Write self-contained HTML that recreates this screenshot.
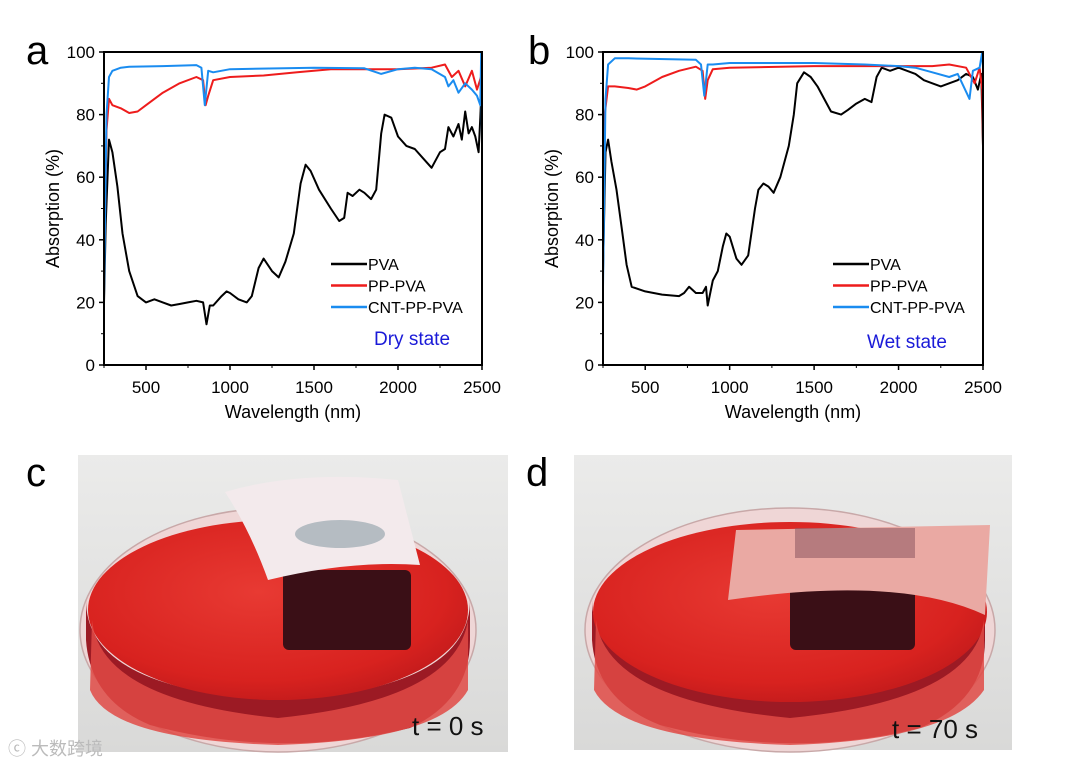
<!DOCTYPE html>
<html><head><meta charset="utf-8"><style>
body{margin:0;background:#fff;font-family:"Liberation Sans","Noto Sans CJK SC",sans-serif}
svg{display:block}
</style></head><body>
<svg id="fig" width="1080" height="770" viewBox="0 0 1080 770" font-family="Liberation Sans, Noto Sans CJK SC, sans-serif">
<defs>
<radialGradient id="liq" cx="0.45" cy="0.4" r="0.7"><stop offset="0" stop-color="#e83a33"/><stop offset="0.7" stop-color="#d8221f"/><stop offset="1" stop-color="#b8171a"/></radialGradient>
<linearGradient id="bg" x1="0" y1="0" x2="0" y2="1"><stop offset="0" stop-color="#ebebea"/><stop offset="1" stop-color="#d9d9d8"/></linearGradient>
</defs>
<text x="26" y="64" font-size="40">a</text>
<text x="528" y="64" font-size="40">b</text>
<text x="26" y="486" font-size="40">c</text>
<text x="526" y="486" font-size="40">d</text>
<g id="chartA"></g>
<g id="chartB"></g>

<g>
<rect x="78" y="455" width="430" height="297" fill="url(#bg)"/>
<ellipse cx="278" cy="630" rx="198" ry="122" fill="#efd6d6" stroke="#c8a8a8" stroke-width="1.5"/>
<path d="M86,640 Q90,700 150,725 Q280,760 410,728 Q470,700 470,640 L470,600 Q470,690 278,700 Q86,690 86,600 Z" fill="#9c1a24"/>
<ellipse cx="278" cy="610" rx="190" ry="90" fill="url(#liq)"/>
<path d="M92,620 Q100,700 278,718 Q456,700 468,620 L468,690 Q440,740 278,745 Q110,740 90,690 Z" fill="#e04a45" opacity="0.85"/>
<rect x="283" y="570" width="128" height="80" rx="6" fill="#3a0f16"/>
<path d="M225,492 Q300,470 398,480 L420,565 Q350,560 268,580 Q250,530 225,492 Z" fill="#f3eaec"/>
<ellipse cx="340" cy="534" rx="45" ry="14" fill="#9aa8b0" opacity="0.7"/>
<text x="412" y="735" font-size="26" fill="#111">t = 0 s</text>
</g>

<g>
<rect x="574" y="455" width="438" height="295" fill="url(#bg)"/>
<ellipse cx="790" cy="630" rx="205" ry="122" fill="#efd6d6" stroke="#c8a8a8" stroke-width="1.5"/>
<path d="M592,640 Q596,700 660,725 Q790,760 920,728 Q985,700 985,640 L985,600 Q985,690 790,700 Q592,690 592,600 Z" fill="#9c1a24"/>
<ellipse cx="790" cy="612" rx="197" ry="90" fill="url(#liq)"/>
<path d="M596,620 Q606,700 790,718 Q974,700 984,620 L984,690 Q950,740 790,745 Q620,740 594,690 Z" fill="#e04a45" opacity="0.85"/>
<rect x="790" y="580" width="125" height="70" rx="6" fill="#3a0f16"/>
<path d="M736,530 L990,525 L985,615 Q900,575 728,600 Z" fill="#eaa9a3"/>
<rect x="795" y="528" width="120" height="30" fill="#8a5560" opacity="0.55"/>
<text x="892" y="738" font-size="26" fill="#111">t = 70 s</text>
</g>
<text x="8" y="755" font-size="18" fill="#bbb">ⓒ 大数跨境</text>
</svg>
<script>
// ---- Dry state data ----
const dryPvaX=[250,260,280,300,330,360,400,450,500,550,600,650,700,750,800,840,860,880,900,950,980,1000,1050,1100,1130,1170,1200,1250,1290,1330,1380,1420,1450,1480,1530,1600,1650,1680,1700,1730,1770,1800,1840,1870,1900,1920,1960,2000,2050,2100,2150,2200,2250,2280,2300,2330,2360,2380,2400,2420,2440,2460,2480,2490,2500];
const dryPvaY=[20,45,72,68,57,42,30,22,20,21,20,19,19.5,20,20.5,20,13,19,19,22,23.5,23,21,20,22,31,34,30,28,33,42,58,64,62,56,50,46,47,55,54,56,55,53,56,74,80,79,73,70,69,66,63,68,69,76,73,77,72,81,74,76,73,68,79,92];
const dryPpX=[250,265,280,300,350,400,450,500,600,700,800,840,855,870,900,1000,1200,1400,1600,1800,2000,2200,2280,2320,2360,2400,2440,2470,2500];
const dryPpY=[30,75,85,83,82,80.5,81,83,87,90,92,91,83,86,91,92,92.5,93.5,94.5,94.5,94.5,95,96,92,94,89,94,88,93];
const dryCntX=[250,265,280,300,350,400,600,800,830,850,870,900,1000,1500,1800,1900,2000,2100,2200,2280,2300,2330,2360,2400,2440,2470,2490,2495,2500];
const dryCntY=[22,80,92,94,95,95.3,95.5,95.8,95,83,94,93.5,94.5,95,94.8,93,94.5,95,94.5,92,89,91,87,90,88,86,83,100,72];
// ---- Wet state data ----
const wetPvaX=[250,265,280,300,330,360,390,420,500,600,700,730,760,800,840,860,870,900,930,960,980,1000,1040,1070,1110,1150,1170,1200,1230,1260,1300,1350,1380,1400,1440,1480,1520,1560,1600,1660,1700,1750,1800,1840,1870,1900,1950,2000,2050,2100,2150,2200,2250,2300,2350,2400,2440,2470,2490,2500];
const wetPvaY=[30,68,72,65,56,44,32,25,23.5,22.5,22,23,25,23,23,25,19,27,30,38,42,41,34,32,35,50,56,58,57,55,60,70,80,90,93.5,92,89,85,81,80,81.5,83.5,85,84,92,95,94,95,94,93,91,90,89,90,91,93,92,88,93,70];
const wetPpX=[250,260,280,320,400,450,500,600,700,800,840,855,870,900,1000,1500,1700,2000,2200,2300,2400,2450,2480,2495,2500];
const wetPpY=[50,80,89,89,88.5,88,89,92,94,95.3,94,85,91,94.5,95,95.5,95.5,95.5,95.5,96,95,90,95,88,70];
const wetCntX=[250,265,280,320,400,800,830,850,870,900,1000,1500,1800,2000,2100,2200,2300,2350,2420,2440,2480,2495,2500];
const wetCntY=[25,85,96,98,98,97.5,96,86,96,96,96.5,96.5,96,95.5,95,93.5,92,93,85,94,95,100,95];
const xTicks=[500,1000,1500,2000,2500];
const yTicks=[0,20,40,60,80,100];
const seriesNames=["PVA","PP-PVA","CNT-PP-PVA"];
const seriesColors=["#000000","#ee1c1c","#1a8cf0"];

const NS="http://www.w3.org/2000/svg";
function mk(tag,attrs,parent){const e=document.createElementNS(NS,tag);for(const k in attrs)e.setAttribute(k,attrs[k]);parent.appendChild(e);return e;}

function drawChart(g,L,R,T,B,series,stateText,stateX,stateY,legX){
  const sx=v=>L+(v-250)/(2500-250)*(R-L);
  const sy=v=>B-v/100*(B-T);
  series.forEach((s,i)=>{
    const p=s.x.map((x,j)=>(j?'L':'M')+sx(x).toFixed(1)+','+sy(s.y[j]).toFixed(1)).join(' ');
    const path=mk('path',{d:p,fill:'none',stroke:seriesColors[i],'stroke-width':2,'stroke-linejoin':'round'},g);
    
    
  });
  const frame=mk('rect',{x:L,y:T,width:R-L,height:B-T,fill:'none',stroke:'#000','stroke-width':2},g);
  
  
  xTicks.forEach(t=>{
    mk('line',{x1:sx(t),x2:sx(t),y1:B,y2:B+5,stroke:'#000','stroke-width':1.5},g);
    mk('line',{x1:sx(t-250),x2:sx(t-250),y1:B,y2:B+3,stroke:'#000','stroke-width':1},g);
    const tx=mk('text',{x:sx(t),y:B+28,'font-size':17,'text-anchor':'middle'},g);
    tx.textContent=t;
    
    
  });
  yTicks.forEach(t=>{
    mk('line',{x1:L-5,x2:L,y1:sy(t),y2:sy(t),stroke:'#000','stroke-width':1.5},g);
    if(t<100)mk('line',{x1:L-3,x2:L,y1:sy(t+10),y2:sy(t+10),stroke:'#000','stroke-width':1},g);
    const tx=mk('text',{x:L-9,y:sy(t)+6,'font-size':17,'text-anchor':'end'},g);
    tx.textContent=t;
    
    
  });
  const xt=mk('text',{x:(L+R)/2,y:B+53,'font-size':18,'text-anchor':'middle'},g);
  xt.textContent='Wavelength (nm)';
  
  
  const yt=mk('text',{x:0,y:0,'font-size':18,'text-anchor':'middle',transform:`translate(${L-45},${(T+B)/2}) rotate(-90)`},g);
  yt.textContent='Absorption (%)';
  
  
  seriesNames.forEach((n,i)=>{
    const y=264+i*21.5;
    const ln=mk('line',{x1:legX,x2:legX+36,y1:y,y2:y,stroke:seriesColors[i],'stroke-width':2.5},g);
    
    
    const tx=mk('text',{x:legX+37,y:y+6,'font-size':16},g);
    tx.textContent=n;
    
    
  });
  const st=mk('text',{x:stateX,y:stateY,'font-size':19,fill:'#1a1ad8'},g);
  st.textContent=stateText;
  
  
}
drawChart(document.getElementById('chartA'),104,482,52,365,
 [{x:dryPvaX,y:dryPvaY},{x:dryPpX,y:dryPpY},{x:dryCntX,y:dryCntY}],'Dry state',374,345,331);
drawChart(document.getElementById('chartB'),603,983,52,365,
 [{x:wetPvaX,y:wetPvaY},{x:wetPpX,y:wetPpY},{x:wetCntX,y:wetCntY}],'Wet state',867,348,833);
</script>
</body></html>
